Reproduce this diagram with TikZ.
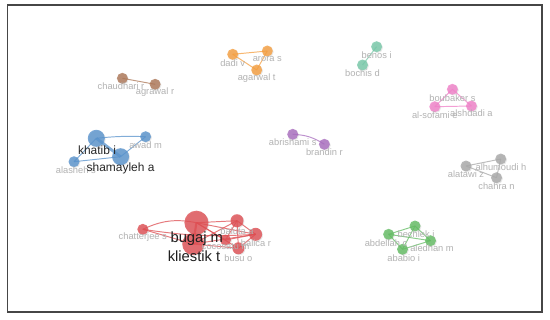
\documentclass[tikz,border=0pt]{standalone}
\usepackage{fontspec}
\setmainfont{Liberation Sans}
\usetikzlibrary{shadows}
\definecolor{cred}{RGB}{222,78,82}
\definecolor{cblue}{RGB}{88,146,204}
\definecolor{corange}{RGB}{245,158,62}
\definecolor{cteal}{RGB}{118,200,168}
\definecolor{cpink}{RGB}{240,128,200}
\definecolor{cgray}{RGB}{168,168,168}
\definecolor{cpurple}{RGB}{168,108,190}
\definecolor{cbrown}{RGB}{172,118,86}
\definecolor{cgreen}{RGB}{98,188,98}
\definecolor{lblgray}{RGB}{178,178,178}
\definecolor{framegray}{RGB}{70,70,70}
\tikzset{
  nd/.style 2 args={circle, inner sep=0pt, minimum size=#2*0.04cm, fill=#1, fill opacity=0.8, draw=none,
    drop shadow={shadow xshift=0.5pt, shadow yshift=-0.5pt, opacity=0.18}},
  lbl/.style={text=lblgray, font=\fontsize{5.3}{6}\selectfont, inner sep=0pt},
  biglbl/.style={text=black!88, font=\fontsize{8.4}{9}\selectfont, inner sep=0pt},
  midlbl/.style={text=black!85, font=\fontsize{6.8}{7.5}\selectfont, inner sep=0pt},
  lk/.style={draw=#1, draw opacity=0.75, line width=0.55pt},
}
\begin{document}
\begin{tikzpicture}[x=0.02cm,y=-0.02cm]
\useasboundingbox (0,0) rectangle (550,320);
\fill[white] (0,0) rectangle (550,320);
\draw[framegray, line width=0.6pt] (7.5,5) rectangle (542,312);

% ---------- nodes ----------
% brown
\node[nd={cbrown}{5.5}] (chaudhari) at (122.4,78.3) {};
\node[nd={cbrown}{5.5}] (agrawal) at (155.1,84.3) {};
% orange
\node[nd={corange}{5.5}] (dadi) at (232.7,54.3) {};
\node[nd={corange}{5.5}] (arora) at (267.3,51) {};
\node[nd={corange}{5.5}] (agarwal) at (256.7,70) {};
% teal
\node[nd={cteal}{5.5}] (benos) at (376.6,46.7) {};
\node[nd={cteal}{5.5}] (bochis) at (362.5,65) {};
% pink
\node[nd={cpink}{5.5}] (boubaker) at (452.4,89.3) {};
\node[nd={cpink}{5.5}] (alsofami) at (434.8,106.7) {};
\node[nd={cpink}{5.5}] (alshdadi) at (471.4,106) {};
% purple
\node[nd={cpurple}{5.5}] (abrishami) at (292.7,134.3) {};
\node[nd={cpurple}{5.5}] (brandin) at (324.4,144.3) {};
% gray
\node[nd={cgray}{5.5}] (alatawi) at (466,166) {};
\node[nd={cgray}{5.5}] (alhumoudi) at (500.7,159) {};
\node[nd={cgray}{5.5}] (chahra) at (496.5,177.7) {};
% blue
\node[nd={cblue}{8.5}] (khatib) at (96.3,138.3) {};
\node[nd={cblue}{8.5}] (shamayleh) at (120.6,156.7) {};
\node[nd={cblue}{5.5}] (alasheh) at (74,161.7) {};
\node[nd={cblue}{5.5}] (awad) at (145.6,136.7) {};
% green
\node[nd={cgreen}{5.5}] (abdellah) at (388.6,234.3) {};
\node[nd={cgreen}{5.5}] (bechlek) at (415,226) {};
\node[nd={cgreen}{5.5}] (aledhan) at (430.5,240.7) {};
\node[nd={cgreen}{5.5}] (ababio) at (402.5,249.3) {};
% red
\node[nd={cred}{5.5}] (chatterjee) at (142.8,229.3) {};
\node[nd={cred}{11}] (kliestik) at (193.2,244) {};
\node[nd={cred}{12}] (bugaj) at (196.4,222.7) {};
\node[nd={cred}{5.5}] (cocosatu) at (225.5,240) {};
\node[nd={cred}{6.5}] (baluta) at (237,220.7) {};
\node[nd={cred}{6.5}] (balica) at (255.6,234.3) {};
\node[nd={cred}{6}] (busu) at (238.4,248.3) {};

% ---------- links ----------
\draw[lk=cbrown] (chaudhari.center) -- (agrawal.center);
\draw[lk=corange] (dadi.center) -- (arora.center);
\draw[lk=corange] (dadi.center) -- (agarwal.center);
\draw[lk=corange] (arora.center) -- (agarwal.center);
\draw[lk=cteal] (benos.center) -- (bochis.center);
\draw[lk=cpink] (boubaker.center) -- (alsofami.center);
\draw[lk=cpink] (boubaker.center) -- (alshdadi.center);
\draw[lk=cpink] (alsofami.center) -- (alshdadi.center);
\draw[lk=cpurple] (abrishami.center) to[bend left=15] (brandin.center);
\draw[lk=cgray] (alatawi.center) -- (alhumoudi.center);
\draw[lk=cgray] (alatawi.center) -- (chahra.center);
\draw[lk=cgray] (alhumoudi.center) -- (chahra.center);
\draw[lk=cblue] (khatib.center) to[bend left=4] (awad.center);
\draw[lk=cblue, line width=1.6pt] (khatib.center) -- (shamayleh.center);
\draw[lk=cblue] (khatib.center) -- (alasheh.center);
\draw[lk=cblue] (alasheh.center) -- (shamayleh.center);
\draw[lk=cblue] (shamayleh.center) -- (awad.center);
\draw[lk=cgreen] (abdellah.center) -- (bechlek.center);
\draw[lk=cgreen] (abdellah.center) -- (aledhan.center);
\draw[lk=cgreen] (abdellah.center) -- (ababio.center);
\draw[lk=cgreen] (bechlek.center) -- (aledhan.center);
\draw[lk=cgreen] (bechlek.center) -- (ababio.center);
\draw[lk=cgreen] (ababio.center) -- (aledhan.center);
\draw[lk=cred] (chatterjee.center) to[bend left=18] (bugaj.center);
\draw[lk=cred] (chatterjee.center) to[bend right=6] (balica.center);
\draw[lk=cred] (chatterjee.center) -- (kliestik.center);
\draw[lk=cred, line width=1.2pt] (bugaj.center) -- (kliestik.center);
\draw[lk=cred] (bugaj.center) -- (baluta.center);
\draw[lk=cred] (bugaj.center) -- (balica.center);
\draw[lk=cred] (bugaj.center) -- (busu.center);
\draw[lk=cred] (bugaj.center) -- (cocosatu.center);
\draw[lk=cred] (kliestik.center) -- (baluta.center);
\draw[lk=cred] (kliestik.center) -- (balica.center);
\draw[lk=cred] (kliestik.center) -- (busu.center);
\draw[lk=cred] (baluta.center) -- (balica.center);
\draw[lk=cred] (baluta.center) -- (busu.center);
\draw[lk=cred] (balica.center) -- (busu.center);
\draw[lk=cred] (cocosatu.center) -- (balica.center);
\draw[lk=cred] (cocosatu.center) -- (baluta.center);

% ---------- labels ----------
\node[lbl] (l-chaudhari) at (121,86) {chaudhari r};
\node[lbl] (l-agrawal) at (155,92.3) {agrawal r};
\node[lbl] (l-dadi) at (232.7,62.7) {dadi v};
\node[lbl] (l-arora) at (267.3,59) {arora s};
\node[lbl] (l-agarwal) at (256.7,77.7) {agarwal t};
\node[lbl] (l-benos) at (376.6,55) {benos i};
\node[lbl] (l-bochis) at (362.5,72.7) {bochis d};
\node[lbl] (l-boubaker) at (452.4,97.7) {boubaker s};
\node[lbl] (l-alsofami) at (434.8,115) {al-sofami e};
\node[lbl] (l-alshdadi) at (471.4,113.3) {alshdadi a};
\node[lbl] (l-abrishami) at (292.7,142.3) {abrishami s};
\node[lbl] (l-brandin) at (324.4,152.3) {brandin r};
\node[lbl] (l-alatawi) at (466,174.3) {alatawi z};
\node[lbl] (l-alhumoudi) at (501,166.7) {alhumoudi h};
\node[lbl] (l-chahra) at (496.5,186) {chahra n};
\node[lbl] (l-alasheh) at (75.8,170) {alasheh s};
\node[lbl] (l-awad) at (145.6,145) {awad m};
\node[midlbl] (l-khatib) at (97,150.3) {khatib i};
\node[midlbl] (l-shamayleh) at (120.6,168.3) {shamayleh a};
\node[lbl] (l-abdellah) at (386,242.7) {abdellah c};
\node[lbl] (l-bechlek) at (416,234.3) {bechlek i};
\node[lbl] (l-aledhan) at (432,248.3) {aledhan m};
\node[lbl] (l-ababio) at (403.7,257.7) {ababio i};
\node[lbl] (l-chatterjee) at (142.8,237.3) {chatterjee s};
\node[lbl] (l-baluta) at (237,230.7) {baluta a};
\node[lbl] (l-cocosatu) at (225.7,246.5) {cocosatu m};
\node[lbl] (l-balica) at (256,243.3) {balica r};
\node[lbl] (l-busu) at (238.4,257.7) {busu o};
\node[biglbl] (l-bugaj) at (196.8,238.3) {bugaj m};
\node[biglbl] (l-kliestik) at (194,256.7) {kliestik t};
\end{tikzpicture}
\end{document}
